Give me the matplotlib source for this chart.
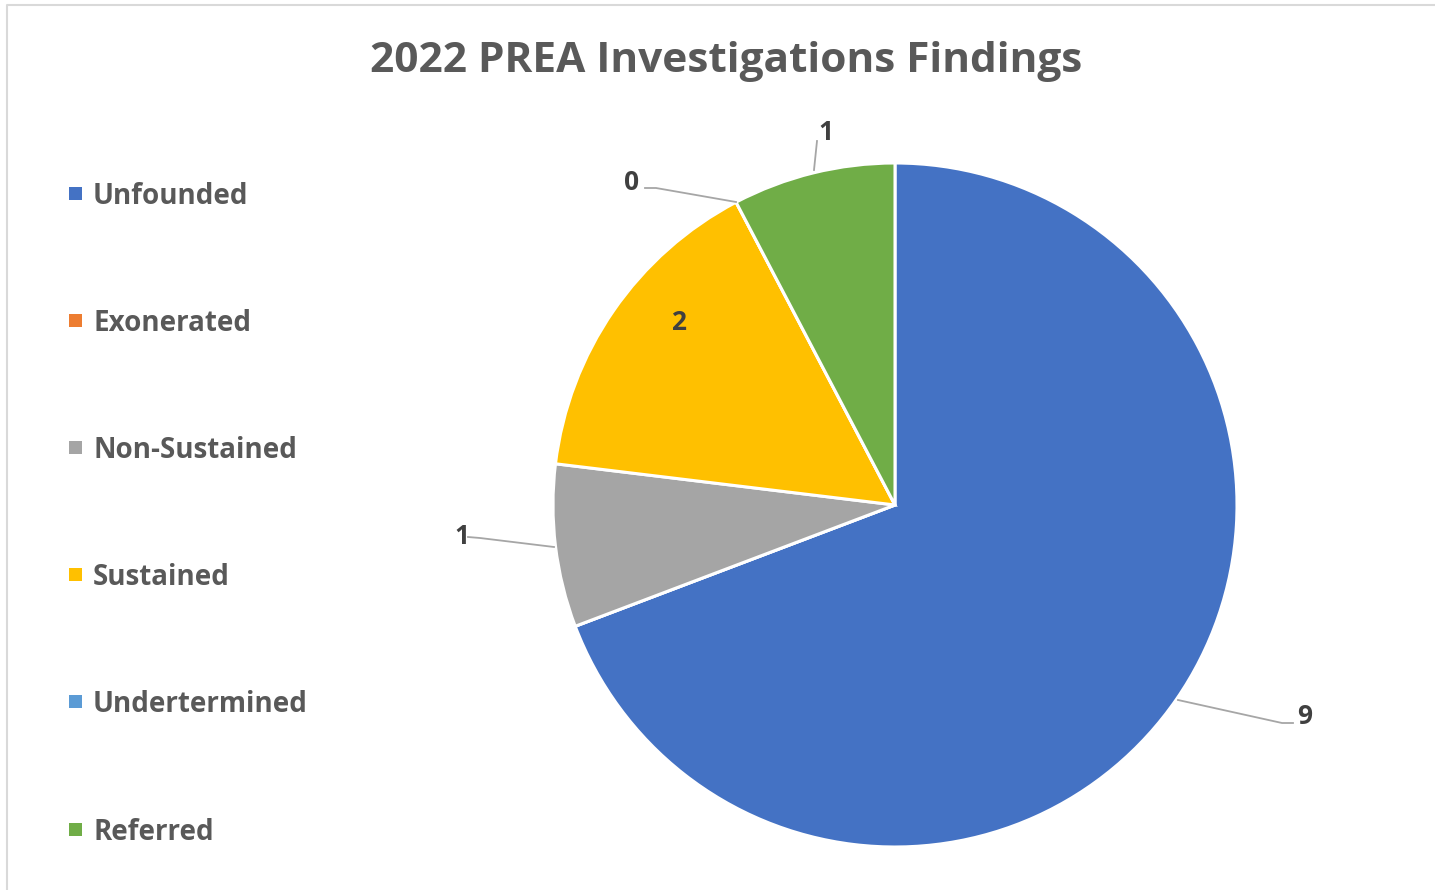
import numpy as np
import matplotlib.pyplot as plt
from matplotlib.patches import Rectangle

categories = ["Unfounded", "Exonerated", "Non-Sustained", "Sustained", "Undertermined", "Referred"]
counts = [9, 0, 1, 2, 0, 1]
colors = ["#4472C4", "#ED7D31", "#A5A5A5", "#FFC000", "#5B9BD5", "#70AD47"]
title = "2022 PREA Investigations Findings"

W, H = 1435, 890
plt.rcParams['font.family'] = ['Open Sans', 'DejaVu Sans']

fig = plt.figure(figsize=(W / 100, H / 100), dpi=100)
ax = fig.add_axes([0, 0, 1, 1])

# chart border (only top and left edges show in the original crop)
ax.plot([7, 7, W], [0, H - 5, H - 5], color="#D9D9D9", linewidth=1.5)

ax.text(726, H - 62, title, ha='center', va='center', fontsize=30.5,
        fontweight='bold', color="#595959")

cx, cy, r = 895, H - 505, 342
wedges, _ = ax.pie(counts, colors=colors, startangle=90, counterclock=False,
                   center=(cx, cy), radius=r,
                   wedgeprops=dict(edgecolor='white', linewidth=2.2))
ax.set_xlim(0, W)
ax.set_ylim(0, H)
ax.set_aspect('equal')
ax.axis('off')

# data labels: (index, text position, leader line points) in pixels
label_pos = {
    0: ((1305, 716), [(1178, 700), (1282, 723), (1293, 723)]),
    2: ((462, 537), [(554, 547), (480, 538), (468, 537)]),
    3: ((679, 323), None),
    4: ((632, 182), [(736, 202), (656, 188), (645, 188)]),
    5: ((826, 133), [(814, 170), (817, 141)]),
}
for i, (pos, line) in label_pos.items():
    if line:
        xs = [p[0] for p in line]
        ys = [H - p[1] for p in line]
        ax.plot(xs, ys, color="#A6A6A6", linewidth=1.3)
    ax.text(pos[0], H - pos[1], str(counts[i]), ha='center', va='center',
            fontsize=19, fontweight='bold', color="#404040")

# legend
for k, (name, col) in enumerate(zip(categories, colors)):
    y = H - (193 + k * 127.2)
    ax.add_patch(Rectangle((69, y - 6.5), 13, 13, facecolor=col, edgecolor='none'))
    ax.text(93, y - 3, name, ha='left', va='center', fontsize=20,
            fontweight='bold', color="#595959")

fig.savefig("out.png", dpi=100)
